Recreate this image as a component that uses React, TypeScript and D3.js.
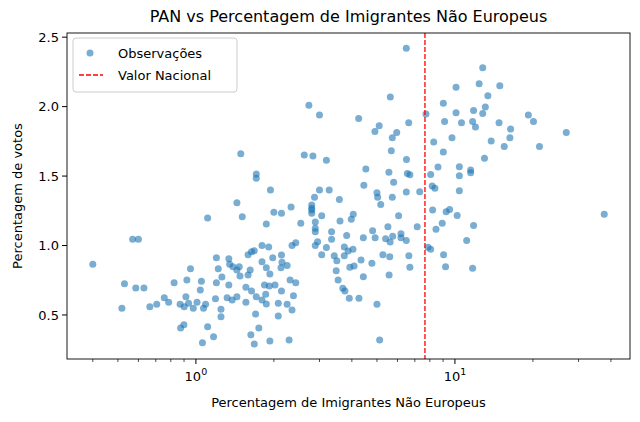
import React from "react";
import * as d3 from "d3";

const xPct = [
0.40,0.57,0.60,0.53,0.586,0.63,0.518,0.664,0.706,0.755,0.785,0.824,0.869,0.915,0.901,0.923,0.953,0.937,0.977,1.01,1.04,1.05,1.07,1.09,1.11,0.873,0.899,1.11,1.06,1.17,1.25,1.25,1.19,1.20,1.20,1.22,1.26,1.34,1.35,1.39,1.44,1.47,1.48,1.34,1.32,1.38,1.44,1.56,1.56,1.59,1.62,1.59,1.64,1.68,1.44,1.51,1.71,1.71,1.94,1.87,2.00,2.14,2.33,1.80,1.91,1.80,1.87,1.93,1.98,2.14,2.13,2.25,2.15,2.35,2.43,1.84,1.92,2.02,2.14,2.31,2.38,2.43,1.71,1.80,1.86,1.87,1.64,2.08,2.08,2.25,2.35,1.70,1.75,1.63,1.68,1.93,2.29,
2.54,3.00,3.27,2.87,2.80,2.80,2.80,2.80,3.06,2.89,2.89,2.89,2.95,2.89,3.19,3.06,3.34,3.34,3.58,3.60,3.82,3.74,3.87,4.04,3.42,3.50,3.74,3.93,4.08,3.48,3.54,3.69,3.76,3.91,4.26,4.34,4.43,4.43,3.98,4.05,4.45,4.53,4.78,4.81,4.92,5.00,5.03,5.17,5.00,5.12,5.27,5.40,5.51,5.60,5.57,5.62,5.75,5.73,5.80,5.56,6.06,6.19,6.19,6.49,6.64,6.70,6.49,6.55,6.70,7.15,7.31,
7.87,8.06,8.06,8.17,8.37,8.20,8.60,8.45,8.93,9.25,9.54,9.04,9.20,10.2,10.4,10.4,10.4,11.1,11.5,11.5,11.8,11.7,
6.49,5.63,2.73,3.00,4.25,5.10,4.91,5.96,5.73,1.49,2.62,2.83,3.19,5.68,
12.8,10.1,12.4,14.9,13.4,9.02,7.73,10.1,11.8,13.1,12.8,6.63,9.12,10.6,11.7,12.0,14.8,19.2,20.1,16.4,16.3,26.9,21.2,13.8,15.5,9.74,8.28,9.02,13.0,6.50,37.7
];
const votes = [
0.865,1.045,1.045,0.725,0.694,0.694,0.548,0.56,0.577,0.624,0.591,0.732,0.577,0.632,0.56,0.752,0.833,0.584,0.548,0.591,0.68,0.742,0.548,0.577,1.198,0.406,0.43,0.416,0.30,0.344,0.541,0.488,0.617,0.732,0.912,0.833,0.773,0.905,0.865,0.847,0.824,0.847,0.78,0.716,0.624,0.608,0.632,0.591,0.70,0.788,0.824,0.934,0.955,0.962,1.308,1.207,1.514,1.485,1.40,1.155,1.239,1.232,1.277,1.0,0.99,0.883,0.84,0.795,0.912,0.932,0.84,0.857,0.879,1.0,1.02,0.716,0.709,0.716,0.673,0.752,0.639,0.732,0.632,0.608,0.649,0.579,0.673,0.584,0.493,0.577,0.536,0.507,0.406,0.358,0.291,0.313,0.32,
1.16,1.40,1.40,1.347,1.268,1.232,1.255,1.291,1.214,1.17,1.124,1.10,1.027,1.0,0.986,0.934,1.10,1.045,1.332,1.176,1.073,0.99,0.96,0.973,0.927,0.891,0.927,0.843,0.853,0.819,0.752,0.692,0.673,0.62,0.62,0.896,0.776,1.056,1.19,1.225,1.433,1.55,0.872,1.107,1.056,1.38,1.347,1.296,0.577,0.32,0.934,1.049,1.135,0.92,0.788,1.025,1.066,1.347,1.455,1.527,1.214,1.085,1.056,1.037,0.927,0.843,1.385,1.519,1.509,1.135,1.387,
0.987,0.973,1.512,1.428,1.412,1.255,1.565,1.117,1.16,1.243,1.26,0.934,0.847,1.217,1.567,1.502,1.394,1.037,1.543,1.524,1.145,0.836,
2.42,2.07,2.009,1.939,1.915,1.862,1.821,1.814,1.775,1.66,1.651,1.644,1.613,1.682,
2.28,2.14,2.164,2.15,2.078,2.025,1.946,1.955,1.972,1.997,1.95,1.883,1.893,1.883,1.893,1.853,1.883,1.939,1.893,1.838,1.775,1.814,1.713,1.752,1.713,1.775,1.745,1.673,1.629,1.62,1.225
];
const nationalValue = 7.66;
const yTicks = [0.5, 1.0, 1.5, 2.0, 2.5];
const xMajor = [1, 10];
const xMinor = [0.4,0.5,0.6,0.7,0.8,0.9,2,3,4,5,6,7,8,9,20,30,40];

const W = 640, H = 422;
const m = { l: 67, r: 10, t: 33, b: 63 };
const font = "DejaVu Sans, sans-serif";

export default function App() {
  const x = d3.scaleLog().domain([0.318, 47.4]).range([m.l, W - m.r]);
  const y = d3.scaleLinear().domain([0.183, 2.53]).range([H - m.b, m.t]);
  const bottom = H - m.b;
  return (
    <svg width={W} height={H} style={{ position: "absolute", left: 0, top: 0, background: "#fff" }} fontFamily={font}>
      <text x={(m.l + W - m.r) / 2} y={22} textAnchor="middle" fontSize={16}>PAN vs Percentagem de Imigrantes Não Europeus</text>
      {xPct.map((v, i) => (
        <circle key={i} cx={x(v)} cy={y(votes[i])} r={3.5} fill="#1f77b4" fillOpacity={0.6} />
      ))}
      <line x1={x(nationalValue)} x2={x(nationalValue)} y1={m.t} y2={bottom} stroke="red" strokeWidth={1.3} strokeDasharray="5,2" />
      <rect x={m.l} y={m.t} width={W - m.l - m.r} height={bottom - m.t} fill="none" stroke="#000" strokeWidth={0.9} />
      {yTicks.map(t => (
        <g key={t}>
          <line x1={m.l - 5} x2={m.l} y1={y(t)} y2={y(t)} stroke="#000" />
          <text x={m.l - 8} y={y(t)} dy="0.35em" textAnchor="end" fontSize={13}>{t.toFixed(1)}</text>
        </g>
      ))}
      {xMinor.map(t => (
        <line key={t} x1={x(t)} x2={x(t)} y1={bottom} y2={bottom + 3} stroke="#000" strokeWidth={0.7} />
      ))}
      {xMajor.map((t, i) => (
        <g key={t}>
          <line x1={x(t)} x2={x(t)} y1={bottom} y2={bottom + 5} stroke="#000" />
          <text x={x(t)} y={bottom + 22} textAnchor="middle" fontSize={13}>10<tspan dy={-6} fontSize={9.5}>{i}</tspan></text>
        </g>
      ))}
      <text x={(m.l + W - m.r) / 2} y={407} textAnchor="middle" fontSize={13}>Percentagem de Imigrantes Não Europeus</text>
      <text transform={`translate(22,${(m.t + bottom) / 2}) rotate(-90)`} textAnchor="middle" fontSize={13}>Percentagem de votos</text>
      <g>
        <rect x={73} y={38} width={164} height={54} rx={3} fill="#fff" fillOpacity={0.8} stroke="#ccc" />
        <circle cx={90} cy={53} r={3.5} fill="#1f77b4" fillOpacity={0.6} />
        <text x={118} y={53} dy="0.35em" fontSize={13}>Observações</text>
        <line x1={79} x2={103} y1={75} y2={75} stroke="red" strokeWidth={1.3} strokeDasharray="5,2" />
        <text x={118} y={75} dy="0.35em" fontSize={13}>Valor Nacional</text>
      </g>
    </svg>
  );
}
